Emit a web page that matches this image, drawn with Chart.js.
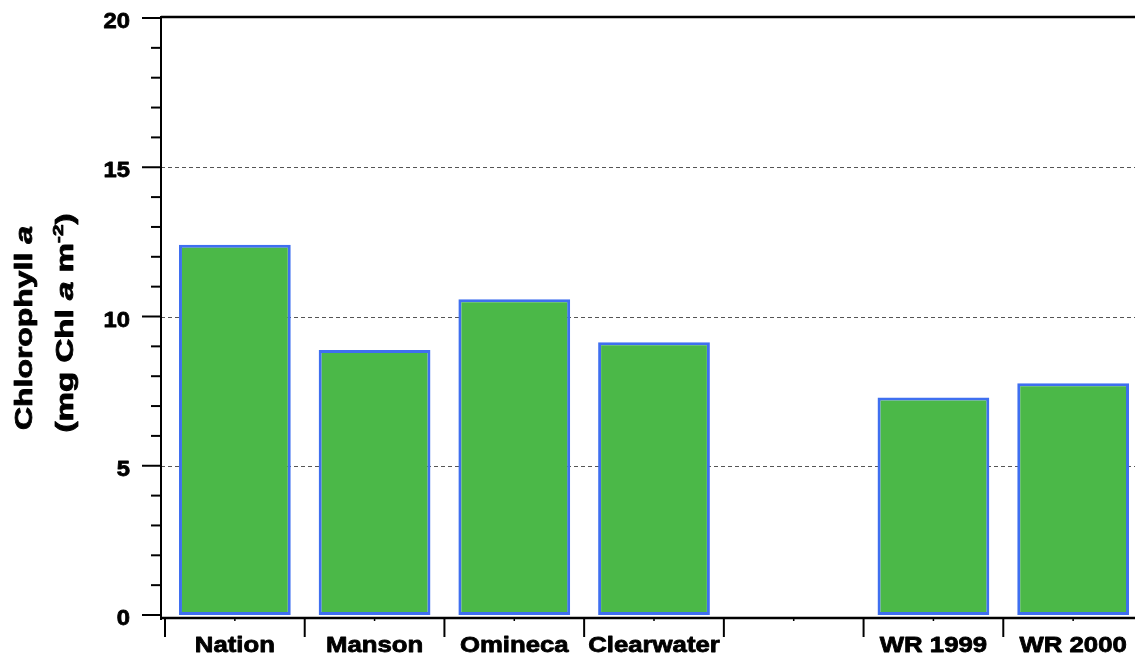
<!DOCTYPE html>
<html>
<head>
<meta charset="utf-8">
<script src="https://cdn.jsdelivr.net/npm/chart.js@4.4.1/dist/chart.umd.min.js"></script>
<style>
  html, body { margin: 0; padding: 0; background: #fff; overflow: hidden; }
  #wrap { width: 1135px; height: 657px; overflow: hidden; }
</style>
</head>
<body>
<div id="wrap"><canvas id="chlChart" width="1145" height="657"></canvas></div>
<script>
// --- data ---
const sites = ['Nation', 'Manson', 'Omineca', 'Clearwater', '', 'WR 1999', 'WR 2000'];
const chlA = [12.4, 8.88, 10.58, 9.14, null, 7.29, 7.76];
const yMajor = [0, 5, 10, 15, 20];
const yMinor = [1, 2, 3, 4, 6, 7, 8, 9, 11, 12, 13, 14, 16, 17, 18, 19];
const yGrid = [5, 10, 15];

const TXT = "'Liberation Sans', Arial, sans-serif";

// filled + thin stroke so the bold text reads heavier
function heavyText(ctx, t, x, y) {
  ctx.fillText(t, x, y);
  ctx.strokeText(t, x, y);
}

// draw a line of mixed-style text centred on 0, baseline at 0
function drawRuns(ctx, runs, stretch) {
  let total = 0;
  runs.forEach(r => { ctx.font = r.font; r.w = ctx.measureText(r.t).width; total += r.w; });
  ctx.save();
  ctx.scale(stretch, 1);
  let cx = -total / 2;
  runs.forEach(r => {
    ctx.font = r.font;
    heavyText(ctx, r.t, cx, r.dy || 0);
    cx += r.w;
  });
  ctx.restore();
}

// hand-drawn axes: offset x axis, boxed top, minor ticks, dashed grid
const axesPlugin = {
  id: 'axesPlugin',
  beforeDatasetsDraw(chart) {
    const { ctx, chartArea: a, scales: { y } } = chart;
    const axisX = a.left - 4;
    ctx.save();
    ctx.strokeStyle = '#555';
    ctx.lineWidth = 1;
    ctx.setLineDash([4, 3]);
    yGrid.forEach(v => {
      const py = Math.round(y.getPixelForValue(v)) + 0.5;
      ctx.beginPath();
      ctx.moveTo(axisX, py);
      ctx.lineTo(a.right, py);
      ctx.stroke();
    });
    ctx.restore();
  },
  afterDatasetsDraw(chart) {
    const { ctx, chartArea: a, scales: { x, y } } = chart;
    const axisX = a.left - 4;
    const axisY = a.bottom + 3;
    ctx.save();
    ctx.strokeStyle = '#000';
    ctx.fillStyle = '#000';
    ctx.lineJoin = 'round';

    // top frame line
    ctx.lineWidth = 2.5;
    ctx.beginPath();
    ctx.moveTo(axisX, a.top - 1);
    ctx.lineTo(a.right, a.top - 1);
    ctx.stroke();

    // y axis + ticks
    ctx.lineWidth = 2;
    ctx.beginPath();
    ctx.moveTo(axisX, a.top - 2);
    ctx.lineTo(axisX, axisY + 2);
    ctx.stroke();
    yMajor.forEach(v => {
      const py = y.getPixelForValue(v);
      ctx.beginPath(); ctx.moveTo(axisX - 19, py); ctx.lineTo(axisX, py); ctx.stroke();
    });
    yMinor.forEach(v => {
      const py = y.getPixelForValue(v);
      ctx.beginPath(); ctx.moveTo(axisX - 10, py); ctx.lineTo(axisX, py); ctx.stroke();
    });

    // y tick labels
    ctx.lineWidth = 0.8;
    ctx.font = 'bold 22px ' + TXT;
    ctx.textAlign = 'right';
    ctx.textBaseline = 'alphabetic';
    yMajor.forEach(v => {
      const py = y.getPixelForValue(v);
      ctx.save();
      ctx.translate(130, py + 10);
      ctx.scale(1.08, 1);
      heavyText(ctx, String(v), 0, 0);
      ctx.restore();
    });

    // x axis + category ticks
    ctx.lineWidth = 2.5;
    ctx.beginPath();
    ctx.moveTo(axisX, axisY);
    ctx.lineTo(a.right, axisY);
    ctx.stroke();
    const w = x.getPixelForValue(1) - x.getPixelForValue(0);
    ctx.lineWidth = 2;
    for (let i = 0; i <= sites.length; i++) {
      const px = x.getPixelForValue(0) - w / 2 + i * w;
      ctx.beginPath(); ctx.moveTo(px, axisY); ctx.lineTo(px, axisY + 19); ctx.stroke();
    }
    ctx.lineWidth = 1.5;
    sites.forEach((s, i) => {
      const px = x.getPixelForValue(i);
      ctx.beginPath(); ctx.moveTo(px, axisY); ctx.lineTo(px, axisY + 3); ctx.stroke();
    });

    // x labels
    ctx.lineWidth = 0.8;
    ctx.textAlign = 'center';
    ctx.font = 'bold 22px ' + TXT;
    sites.forEach((s, i) => {
      const px = x.getPixelForValue(i);
      ctx.save();
      ctx.translate(px, 652);
      ctx.scale(1.17, 1);
      heavyText(ctx, s, 0, 0);
      ctx.restore();
    });

    // y title, two lines, rotated
    ctx.textAlign = 'left';
    const bold = 'bold 24px ' + TXT;
    const ital = 'italic bold 24px ' + TXT;
    ctx.save();
    ctx.translate(32, 328);
    ctx.rotate(-Math.PI / 2);
    drawRuns(ctx, [{ t: 'Chlorophyll ', font: bold }, { t: 'a', font: ital }], 1.33);
    ctx.restore();
    ctx.save();
    ctx.translate(73, 323);
    ctx.rotate(-Math.PI / 2);
    drawRuns(ctx, [
      { t: '(mg Chl ', font: bold },
      { t: 'a', font: ital },
      { t: ' m', font: bold },
      { t: '-2', font: 'bold 15px ' + TXT, dy: -10 },
      { t: ')', font: bold }
    ], 1.38);
    ctx.restore();

    ctx.restore();
  }
};

new Chart(document.getElementById('chlChart'), {
  type: 'bar',
  data: {
    labels: sites,
    datasets: [{
      data: chlA,
      backgroundColor: '#4bb848',
      borderColor: '#3f6ff0',
      borderWidth: 3,
      borderSkipped: false,
      barPercentage: 0.8,
      categoryPercentage: 1.0
    }]
  },
  options: {
    responsive: false,
    animation: false,
    layout: { padding: { left: 165, right: 2, top: 18, bottom: 42 } },
    scales: {
      x: { display: false, offset: true },
      y: { display: false, min: 0, max: 20 }
    },
    plugins: { legend: { display: false }, tooltip: { enabled: false } }
  },
  plugins: [axesPlugin]
});
</script>
</body>
</html>
